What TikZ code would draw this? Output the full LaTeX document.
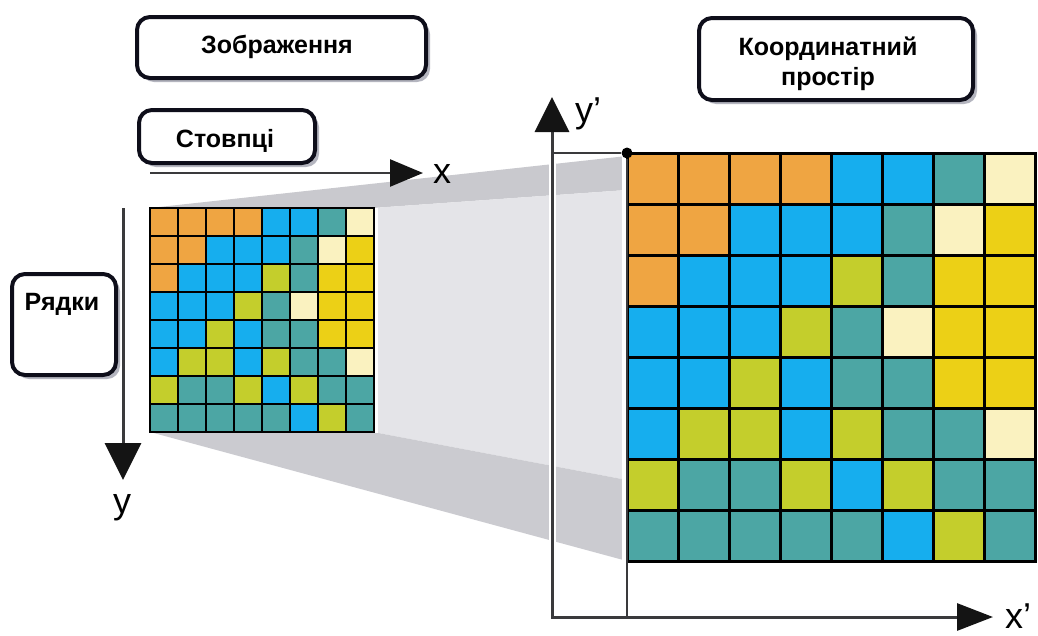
\documentclass[tikz,border=0pt]{standalone}
\usepackage{fontspec}
\setmainfont{Liberation Sans}
\usetikzlibrary{arrows.meta,shadows}

% pixel palette
\definecolor{cO}{RGB}{239,165,66}
\definecolor{cB}{RGB}{22,174,238}
\definecolor{cT}{RGB}{76,166,164}
\definecolor{cG}{RGB}{196,206,44}
\definecolor{cY}{RGB}{236,208,22}
\definecolor{cL}{RGB}{250,242,192}
% projection faces and strokes
\definecolor{faceTop}{RGB}{201,201,206}
\definecolor{faceMid}{RGB}{228,228,232}
\definecolor{faceBot}{RGB}{203,203,208}
\definecolor{axisc}{RGB}{58,58,60}
\definecolor{boxedge}{RGB}{14,14,26}
\definecolor{shadowc}{RGB}{120,122,140}

% 8x8 raster: origin x, origin y, cell size, grid line width
\newcommand\pixgrid[4]{%
  \foreach \rowlist [count=\r] in {%
      {O,O,O,O,B,B,T,L},{O,O,B,B,B,T,L,Y},{O,B,B,B,G,T,Y,Y},{B,B,B,G,T,L,Y,Y},%
      {B,B,G,B,T,T,Y,Y},{B,G,G,B,G,T,T,L},{G,T,T,G,B,G,T,T},{T,T,T,T,T,B,G,T}}{%
    \foreach \cc [count=\k] in \rowlist {%
      \fill[c\cc] ({#1+(\k-1)*#3},{#2+(\r-1)*#3}) rectangle ++(#3,#3);
    }%
  }%
  \foreach \i in {0,...,8} {%
    \draw[black, line width=#4, line cap=rect] ({#1+\i*#3},#2) -- ({#1+\i*#3},{#2+8*#3});
    \draw[black, line width=#4, line cap=rect] (#1,{#2+\i*#3}) -- ({#1+8*#3},{#2+\i*#3});
  }%
}

\begin{document}
\begin{tikzpicture}[x=1pt,y=-1pt,
  box/.style={draw=boxedge, line width=4pt, rounded corners=13pt, fill=white,
    inner sep=0pt,
    drop shadow={shadow xshift=4pt, shadow yshift=-4pt, fill=shadowc, opacity=0.55}},
  lbl/.style={font=\bfseries\fontsize{25}{30}\selectfont, inner sep=0pt, anchor=base},
  axlbl/.style={font=\fontsize{36}{40}\selectfont, inner sep=0pt, anchor=base},
  axisline/.style={draw=axisc, line width=3pt, line cap=rect},
  thinline/.style={draw=axisc, line width=2.5pt},
]
\useasboundingbox (0,0) rectangle (1038,635);
\fill[white] (0,0) rectangle (1038,635);

% projection of the image raster onto the coordinate space
\fill[faceTop] (150,208) -- (627,156) -- (627,190) -- (373,208) -- cycle;
\fill[faceMid] (373,208) -- (627,190) -- (627,480) -- (373,432) -- cycle;
\fill[faceBot] (150,432) -- (373,432) -- (627,480) -- (627,561) -- cycle;
\fill[white] (373,208) rectangle (378,433);
\fill[white] (622,156) rectangle (627,561);
\fill[white] (548.5,150) rectangle (555.5,565);

% image axes
\coordinate (xstart) at (150,173);
\coordinate (xend) at (423,173);
\coordinate (ystart) at (123,208);
\coordinate (yend) at (123,480);
\draw[thinline, -{Triangle[length=33pt,width=27pt,color=black!92]}] (xstart) -- (xend);
\draw[axisline, line cap=butt, -{Triangle[length=37pt,width=36pt,color=black!92]}] (ystart) -- (yend);
\node[axlbl] (xlab) at (442,183) {x};
\node[axlbl] (ylab) at (122,513) {y};

% coordinate-space axes
\coordinate (oprime) at (552,617);
\coordinate (ypend) at (552,97);
\coordinate (xpend) at (993,617);
\draw[axisline, -{Triangle[length=35pt,width=34pt,color=black!92]}] (oprime) -- (ypend);
\draw[axisline, -{Triangle[length=36pt,width=27pt,color=black!92]}] (oprime) -- (xpend);
\node[axlbl] (yplab) at (588,122) {y'};
\node[axlbl] (xplab) at (1018,628) {x'};

% rasters
\pixgrid{150}{208}{28}{2pt}
\pixgrid{627}{153}{51}{3pt}

% corner of the coordinate space
\node[circle, fill=black, inner sep=0pt, minimum size=11pt] (corner) at (627,153) {};
\coordinate (ymark) at (552,153);
\draw[thinline] (ymark) -- (corner);
\draw[thinline] (corner) -- (corner |- oprime);

% captions
\node[box, minimum width=289pt, minimum height=61pt] (imgbox) at (281.5,47.5) {};
\node[lbl] (imgtxt) at (277,53) {Зображення};
\node[box, minimum width=176pt, minimum height=53pt] (colbox) at (227,136.5) {};
\node[lbl] (coltxt) at (225,147) {Стовпці};
\node[box, minimum width=104pt, minimum height=101pt] (rowbox) at (64,324.5) {};
\node[lbl] (rowtxt) at (62,310) {Рядки};
\node[box, minimum width=274pt, minimum height=82pt] (spacebox) at (836,59) {};
\node[lbl] (spacetxt1) at (828,55) {Координатний};
\node[lbl] (spacetxt2) at (828,85) {простір};
\end{tikzpicture}
\end{document}
